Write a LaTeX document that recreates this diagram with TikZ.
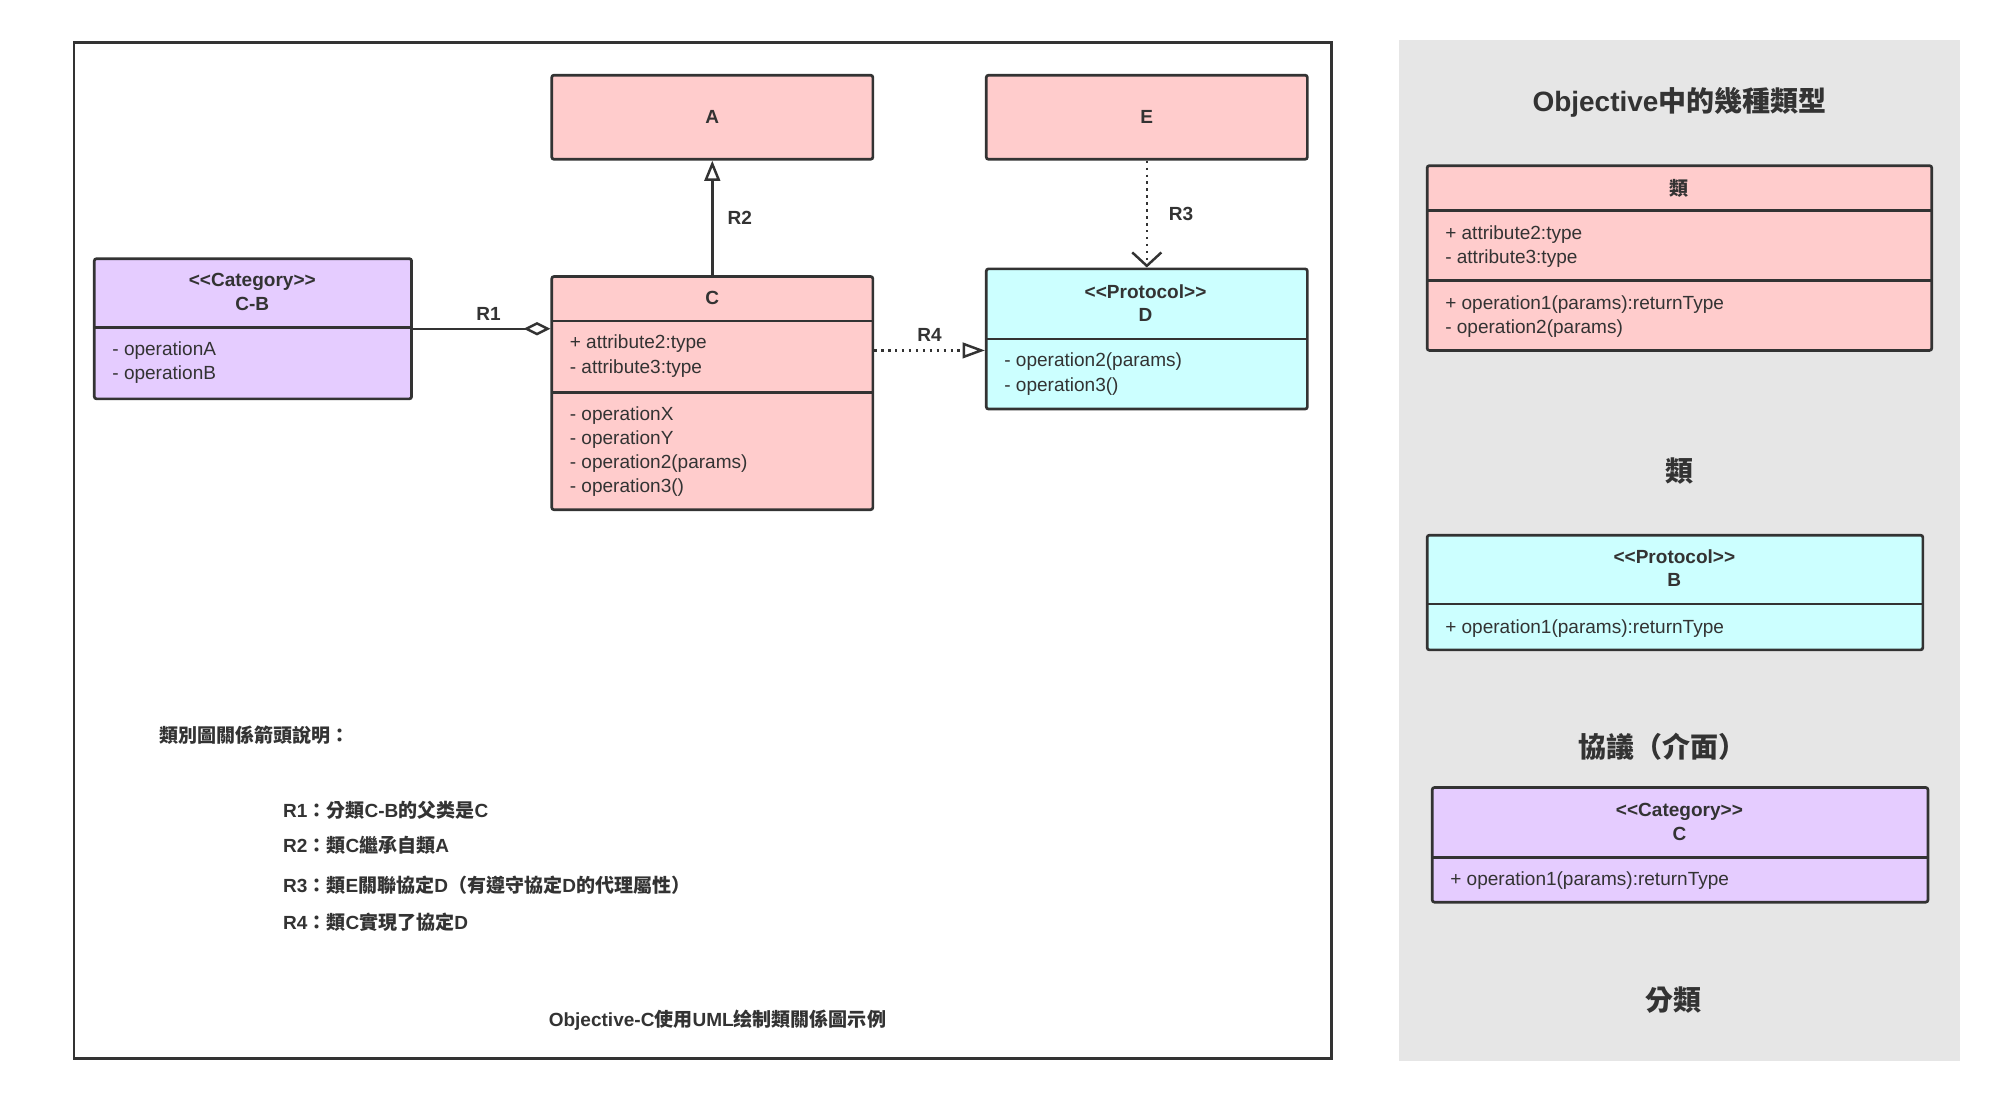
\documentclass[tikz,border=0pt]{standalone}
\usepackage{fontspec}
\setmainfont{Liberation Sans}
\newfontfamily\cjk{Noto Sans CJK TC}
\usetikzlibrary{arrows.meta,positioning}
\definecolor{clspink}{HTML}{FFCCCC}
\definecolor{protcyan}{HTML}{CCFFFF}
\definecolor{catpurple}{HTML}{E5CCFF}
\definecolor{panelgray}{HTML}{E6E6E6}
\definecolor{edge}{HTML}{333333}
\tikzset{
  umlbox/.style={draw=edge,line width=1.2pt,rounded corners=1pt,inner sep=0pt},
  ttl/.style={font=\fontsize{8.5}{10.5}\selectfont\bfseries,text=edge},
  mem/.style={font=\fontsize{8.5}{10}\selectfont,text=edge,anchor=west},
  big/.style={font=\fontsize{12.5}{14}\selectfont\bfseries,text=edge},
  lbl/.style={font=\fontsize{8.5}{10}\selectfont\bfseries,text=edge},
  link/.style={draw=edge,line width=1.1pt}
}
\newcommand{\umlbox}[6]{% name, fill, x1, y1, x2, y2
  \node[umlbox,fill=#2,minimum width={(#5-#3)*0.02cm},minimum height={(#6-#4)*0.02cm}]
    (#1) at ({(#3+#5)/2},{(#4+#6)/2}) {};}
\begin{document}
\begin{tikzpicture}[x=0.02cm,y=-0.02cm]
\useasboundingbox (0,0) rectangle (1568,870);
% frames
\node[draw=edge,line width=1.2pt,minimum width=19.74cm,minimum height=15.96cm] (frame) at (551.5,432) {};
\fill[panelgray] (1098,31) rectangle (1538,833);
% left diagram
\umlbox{A}{clspink}{433}{59}{685}{125}
\node[ttl] at (A) {A};
\umlbox{E}{clspink}{774}{59}{1026}{125}
\node[ttl] at (E) {E};
\umlbox{CB}{catpurple}{74}{203}{323}{313}
\draw[umlbox] (74,257) -- (323,257);
\node[ttl,align=center] at (198,229) {<{}<Category>{}>\\C-B};
\node[mem] at (82,275) {- operationA};
\node[mem] at (82,294) {- operationB};
\umlbox{C}{clspink}{433}{217}{685}{400}
\draw[umlbox] (433,252) -- (685,252) (433,308) -- (685,308);
\node[ttl] at (559,234) {C};
\foreach \y/\t in {270/+ attribute2:type,289/- attribute3:type,326/- operationX,345/- operationY,364/- operation2(params),383/- operation3()}
  \node[mem] at (441,\y) {\t};
\umlbox{D}{protcyan}{774}{211}{1026}{321}
\draw[umlbox] (774,266) -- (1026,266);
\node[ttl,align=center] at (899,238) {<{}<Protocol>{}>\\D};
\node[mem] at (782,284) {- operation2(params)};
\node[mem] at (782,303) {- operation3()};
% relations
\draw[link,{Diamond[open,length=12pt,width=6pt]}-] (C.west |- 0,258) -- (CB.east |- 0,258) node[lbl,pos=0.45,above] {R1};
\draw[link,-{Triangle[open,length=9pt,width=7pt]}] (C.north) -- (A.south) node[lbl,midway,right,xshift=3pt] {R2};
\draw[link,dotted,-{Straight Barb[length=6pt,width=13pt]}] (E.south) -- (D.north) node[lbl,midway,right,xshift=6pt] {R3};
\draw[link,dotted,-{Triangle[open,length=10pt,width=7pt]}] (C.east |- 0,275) -- (D.west |- 0,275) node[lbl,midway,above] {R4};
% legend
\node[lbl,anchor=west] (leg) at (119,577) {\cjk 類別圖關係箭頭說明：};
\node[lbl,anchor=west] at (216,636) {R1{\cjk ：分類}C-B{\cjk 的父类是}C};
\node[lbl,anchor=west] at (216,663) {R2{\cjk ：類}C{\cjk 繼承自類}A};
\node[lbl,anchor=west] at (216,695) {R3{\cjk ：類}E{\cjk 關聯協定}D{\cjk （有遵守協定}D{\cjk 的代理屬性）}};
\node[lbl,anchor=west] at (216,724) {R4{\cjk ：類}C{\cjk 實現了協定}D};
\node[lbl] at (563,801) {Objective-C{\cjk 使用}UML{\cjk 绘制類關係圖示例}};
% right panel
\node[big] at (1318,80) {Objective{\cjk 中的幾種類型}};
\umlbox{K}{clspink}{1120}{130}{1516}{275}
\draw[umlbox] (1120,165) -- (1516,165) (1120,220) -- (1516,220);
\node[ttl] at (1318,148) {\cjk 類};
\foreach \y/\t in {184/+ attribute2:type,203/- attribute3:type,239/+ operation1(params):returnType,258/- operation2(params)}
  \node[mem] at (1128,\y) {\t};
\node[big] at (1318,370) {\cjk 類};
\umlbox{PB}{protcyan}{1120}{420}{1509}{510}
\draw[umlbox] (1120,474) -- (1509,474);
\node[ttl,align=center] at (1314,446) {<{}<Protocol>{}>\\B};
\node[mem] at (1128,493) {+ operation1(params):returnType};
\node[big] at (1305,586) {\cjk 協議（介面）};
\umlbox{CC}{catpurple}{1124}{618}{1513}{708}
\draw[umlbox] (1124,673) -- (1513,673);
\node[ttl,align=center] at (1318,645) {<{}<Category>{}>\\C};
\node[mem] at (1132,691) {+ operation1(params):returnType};
\node[big] at (1313,785) {\cjk 分類};
\end{tikzpicture}
\end{document}
